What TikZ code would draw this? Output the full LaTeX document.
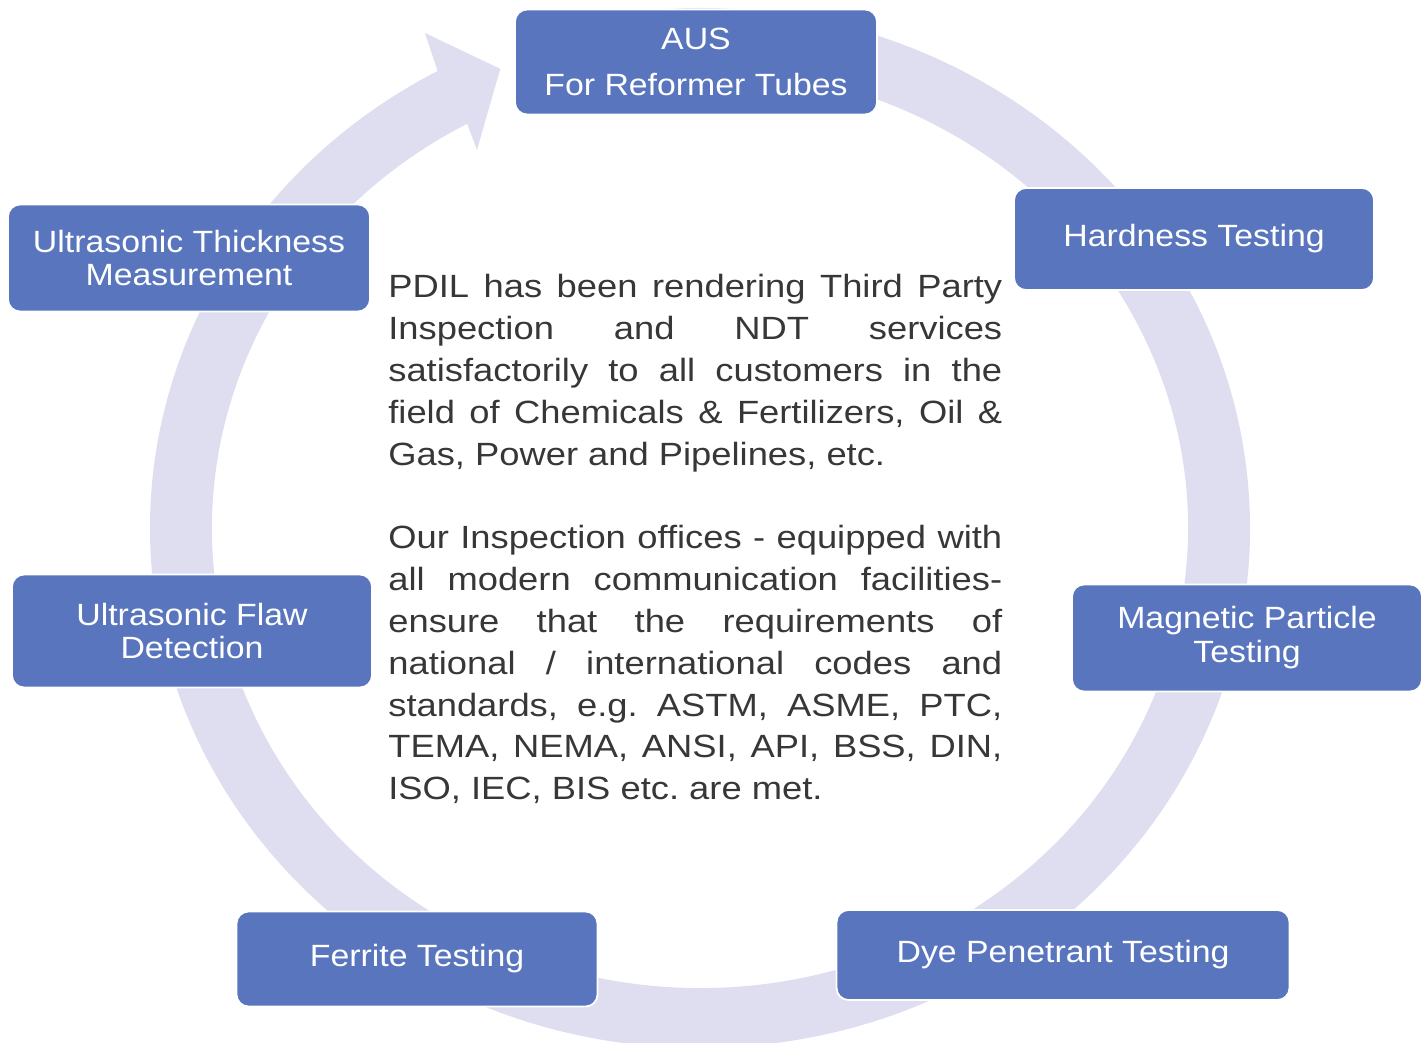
\documentclass[tikz,border=0pt]{standalone}
\usepackage{fontspec}
\setmainfont{Liberation Sans}
\newfontfamily\boxfont{Liberation Sans}[FakeStretch=1.1]
\newfontfamily\bodyfont{Liberation Sans}[FakeStretch=1.13]
\usepackage{tikz}
\usetikzlibrary{positioning}
\definecolor{ringcol}{RGB}{222,222,240}
\definecolor{boxcol}{RGB}{89,117,189}
\definecolor{txtcol}{RGB}{55,55,55}

\begin{document}
\begin{tikzpicture}[x=0.02cm,y=-0.02cm,
box/.style={rectangle,rounded corners=0.24cm,fill=boxcol,draw=white,line width=1pt,
  text=white,align=center,inner sep=0pt,font=\boxfont\fontsize{17.5}{19.3}\selectfont},
body/.style={anchor=base west,inner sep=0pt,text width=12.28cm,align=justify,
  text=txtcol,font=\bodyfont\fontsize{18.3}{23.8}\selectfont}]
\useasboundingbox (0,0) rectangle (1425,1043);
\clip (0,0) rectangle (1425,1043);
\begin{scope}[shift={(700,528)},yscale=-1]
\fill[ringcol] (95:550 and 520) arc[start angle=95,end angle=-241.5,x radius=550,y radius=520]
  -- (-275,495) -- (112.5:522 and 497) -- (-223,378) -- (118.5:488 and 460)
  arc[start angle=-241.5,end angle=95,x radius=488,y radius=460] -- cycle;
\end{scope}
\node[box,minimum width=7.24cm,minimum height=2.1cm,font=\boxfont\fontsize{17.5}{26.6}\selectfont] (A) at (696,62) {AUS\\For Reformer Tubes};
\node[box,minimum width=7.2cm,minimum height=2.04cm] (H) at (1194,239) {Hardness Testing};
\node[box,minimum width=7cm,minimum height=2.14cm] (M) at (1247,638) {Magnetic Particle\\Testing};
\node[box,minimum width=9.06cm,minimum height=1.8cm] (D) at (1063,955) {Dye Penetrant Testing};
\node[box,minimum width=7.22cm,minimum height=1.9cm] (F) at (417,959) {Ferrite Testing};
\node[box,minimum width=7.2cm,minimum height=2.26cm] (UF) at (192,631) {Ultrasonic Flaw\\Detection};
\node[box,minimum width=7.24cm,minimum height=2.14cm] (UT) at (189,258) {Ultrasonic Thickness\\Measurement};
\node[body] (T) at (388,298) {\tolerance=10000 \hbadness=10000 \frenchspacing
PDIL has been rendering Third Party\linebreak
Inspection and NDT services\linebreak
satisfactorily to all customers in the\linebreak
field of Chemicals \& Fertilizers, Oil \&\linebreak
Gas, Power and Pipelines, etc.\par
\vspace{23.8pt}
Our Inspection offices - equipped with\linebreak
all modern communication facilities-\linebreak
ensure that the requirements of\linebreak
national / international codes and\linebreak
standards, e.g. ASTM, ASME, PTC,\linebreak
TEMA, NEMA, ANSI, API, BSS, DIN,\linebreak
ISO, IEC, BIS etc. are met.\par};
\end{tikzpicture}
\end{document}
